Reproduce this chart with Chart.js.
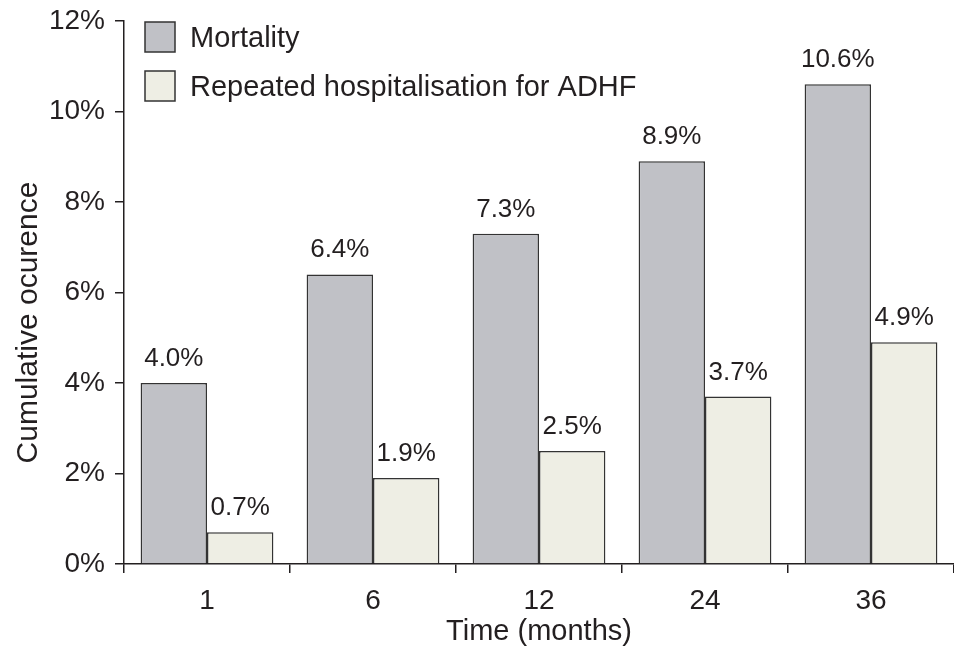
<!DOCTYPE html>
<html>
<head>
<meta charset="utf-8">
<script src="https://cdn.jsdelivr.net/npm/chart.js@4"></script>
<style>
  body { margin: 0; background: #fff; }
</style>
</head>
<body>
<canvas id="chart" width="954" height="649"></canvas>
<script>
const MONTHS = ["1", "6", "12", "24", "36"];
const MORTALITY = [4.0, 6.4, 7.3, 8.9, 10.6];
const READMISSION = [0.7, 1.9, 2.5, 3.7, 4.9];
const SERIES_NAMES = ["Mortality", "Repeated hospitalisation for ADHF"];
const Y_TICKS = [0, 2, 4, 6, 8, 10, 12];
const Y_TITLE = "Cumulative ocurence";

const FONT = "Arial, 'Liberation Sans', Helvetica, sans-serif";
const INK = "#231f20";

// value labels above each bar
const barValueLabels = {
  id: 'barValueLabels',
  afterDatasetsDraw(chart) {
    const ctx = chart.ctx;
    ctx.save();
    ctx.font = `26px ${FONT}`;
    ctx.fillStyle = INK;
    ctx.textAlign = 'center';
    ctx.textBaseline = 'alphabetic';
    chart.data.datasets.forEach((ds, i) => {
      chart.getDatasetMeta(i).data.forEach((bar, j) => {
        ctx.fillText(ds.data[j].toFixed(1) + '%', bar.x, bar.y - 17);
      });
    });
    ctx.restore();
  }
};

// legend sitting inside the plot, top left
const insideLegend = {
  id: 'insideLegend',
  afterDraw(chart) {
    const ctx = chart.ctx;
    const { left, top } = chart.chartArea;
    ctx.save();
    ctx.font = `29px ${FONT}`;
    ctx.textBaseline = 'alphabetic';
    chart.data.datasets.forEach((ds, i) => {
      const x = left + 21;
      const y = top + 1 + i * 49;
      ctx.fillStyle = ds.backgroundColor;
      ctx.fillRect(x, y, 30, 30);
      ctx.strokeStyle = ds.borderColor;
      ctx.lineWidth = 1.5;
      ctx.strokeRect(x, y, 30, 30);
      ctx.fillStyle = INK;
      ctx.fillText(ds.label, x + 45, y + 25);
    });
    ctx.restore();
  }
};

// y title sits a bit lower than the plot centre in the original
const yTitle = {
  id: 'yTitle',
  afterDraw(chart) {
    const ctx = chart.ctx;
    const { top, bottom } = chart.chartArea;
    ctx.save();
    ctx.font = `30px ${FONT}`;
    ctx.fillStyle = INK;
    ctx.textAlign = 'center';
    ctx.textBaseline = 'alphabetic';
    ctx.translate(37, (top + bottom) / 2 + 30);
    ctx.rotate(-Math.PI / 2);
    ctx.fillText(Y_TITLE, 0, 0);
    ctx.restore();
  }
};

new Chart(document.getElementById('chart'), {
  type: 'bar',
  data: {
    labels: MONTHS,
    datasets: [{
      label: SERIES_NAMES[0],
      data: MORTALITY,
      backgroundColor: '#c0c1c6',
      borderColor: '#333333',
      borderWidth: 1.5,
      categoryPercentage: 0.8,
      barPercentage: 1.0
    }, {
      label: SERIES_NAMES[1],
      data: READMISSION,
      backgroundColor: '#eeeee4',
      borderColor: '#333333',
      borderWidth: 1.5,
      categoryPercentage: 0.8,
      barPercentage: 1.0
    }]
  },
  options: {
    responsive: false,
    animation: false,
    layout: { padding: { top: 21, right: 0, left: 0, bottom: 0 } },
    plugins: {
      legend: { display: false },
      tooltip: { enabled: false }
    },
    scales: {
      x: {
        offset: true,
        grid: {
          offset: true,
          drawOnChartArea: false,
          color: INK,
          tickLength: 9,
          lineWidth: 1.5
        },
        border: { color: INK, width: 1.5 },
        ticks: { color: INK, font: { size: 28, family: FONT }, padding: 11 },
        title: {
          display: true,
          text: 'Time (months)',
          color: INK,
          font: { size: 29, family: FONT },
          padding: { top: 0, bottom: 0 }
        },
        afterFit: (scale) => { scale.height = 85; scale.paddingLeft = 0; scale.paddingRight = 0; }
      },
      y: {
        min: 0,
        max: 12,
        afterBuildTicks: (scale) => { scale.ticks = Y_TICKS.map(v => ({ value: v })); },
        grid: {
          drawOnChartArea: false,
          color: INK,
          tickLength: 9,
          lineWidth: 1.5
        },
        border: { color: INK, width: 1.5 },
        ticks: {
          color: INK,
          font: { size: 28, family: FONT },
          padding: 10,
          callback: (v) => v + '%'
        },
        afterFit: (scale) => { scale.width = 124; scale.paddingTop = 0; scale.paddingBottom = 0; }
      }
    }
  },
  plugins: [barValueLabels, insideLegend, yTitle]
});
</script>
</body>
</html>
